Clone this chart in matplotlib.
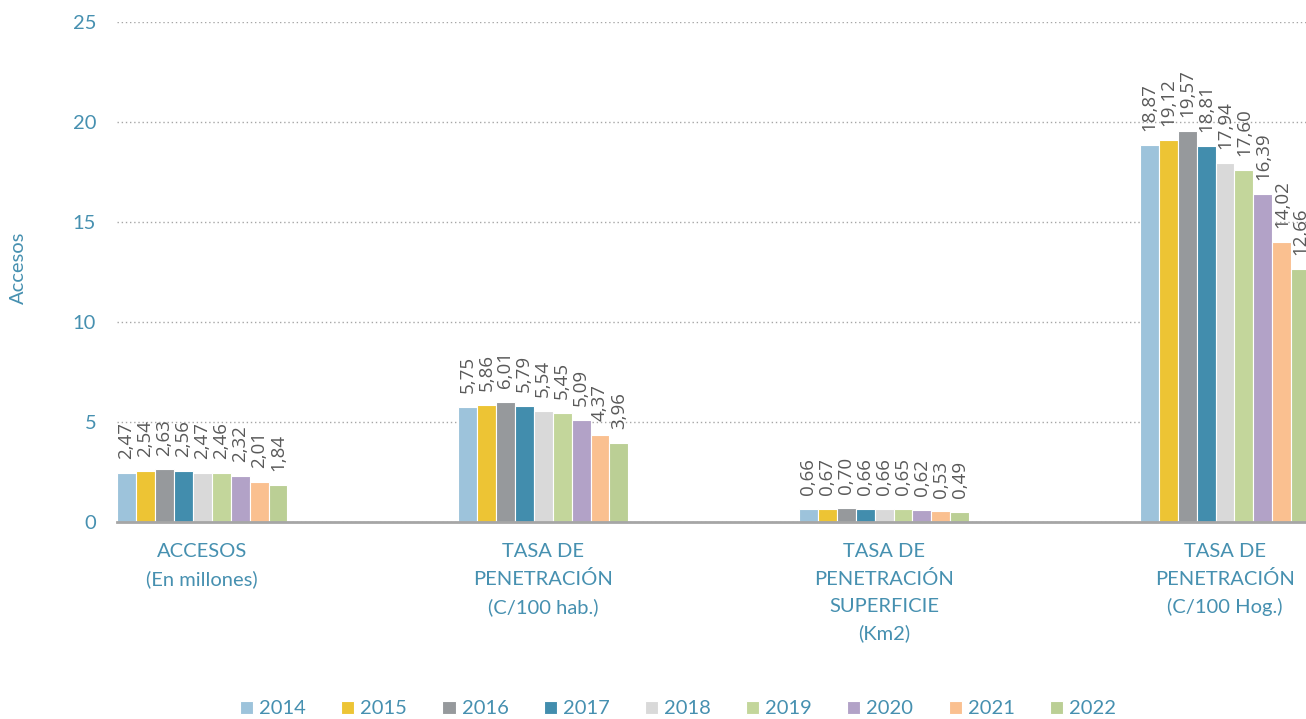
import matplotlib.pyplot as plt
import numpy as np

# data
categories = ['ACCESOS\n(En millones)',
              'TASA DE\nPENETRACIÓN\n(C/100 hab.)',
              'TASA DE\nPENETRACIÓN\nSUPERFICIE\n(Km2)',
              'TASA DE\nPENETRACIÓN\n(C/100 Hog.)']
years = ['2014', '2015', '2016', '2017', '2018', '2019', '2020', '2021', '2022']
values = {
    '2014': [2.47, 5.75, 0.66, 18.87],
    '2015': [2.54, 5.86, 0.67, 19.12],
    '2016': [2.63, 6.01, 0.70, 19.57],
    '2017': [2.56, 5.79, 0.66, 18.81],
    '2018': [2.47, 5.54, 0.66, 17.94],
    '2019': [2.46, 5.45, 0.65, 17.60],
    '2020': [2.32, 5.09, 0.62, 16.39],
    '2021': [2.01, 4.37, 0.53, 14.02],
    '2022': [1.84, 3.96, 0.49, 12.66],
}
colors = ['#9DC3DB', '#EDC434', '#96999C', '#428DAD', '#D9D9D9',
          '#C3D69B', '#B2A2C7', '#FAC090', '#BBCF95']

text_color = '#4690B0'
W, H = 1306, 719

fig = plt.figure(figsize=(W / 100, H / 100), dpi=100)
ax = fig.add_axes([117 / W, 1 - 522 / H, (W - 117) / W, 500 / H])

x = np.arange(len(categories))
group_w = 0.5
bw = group_w / len(years)
for i, y in enumerate(years):
    pos = x - group_w / 2 + bw * (i + 0.5)
    bars = ax.bar(pos, values[y], width=bw, color=colors[i], edgecolor='white',
                  linewidth=0.8, label=y, zorder=3)
    for b, v in zip(bars, values[y]):
        ax.annotate(f'{v:.2f}'.replace('.', ','),
                    (b.get_x() + b.get_width() / 2, b.get_height()),
                    xytext=(0, 10), textcoords='offset points',
                    rotation=90, ha='center', va='bottom',
                    fontsize=13.5, color='#595959', family='Open Sans')

ax.set_xlim(-0.25, (W - 202) / 341)
ax.set_ylim(0, 25)
ax.set_yticks(range(0, 26, 5))
ax.yaxis.grid(True, linestyle=(0, (1, 2)), color='#A6A6A6', linewidth=1, zorder=0)
ax.tick_params(axis='y', length=0, pad=15, labelsize=14.5, labelcolor=text_color)
ax.set_xticks([])
for s in ['top', 'right', 'left']:
    ax.spines[s].set_visible(False)
ax.spines['bottom'].set_color('#A6A6A6')
ax.spines['bottom'].set_linewidth(2)
ax.spines['bottom'].set_zorder(4)
for lab in ax.get_yticklabels():
    lab.set_family('Lato')

# category labels under the axis
for xi, cat in zip(x, categories):
    ax.annotate(cat, (xi, 0), xytext=(0, -15), textcoords='offset points',
                ha='center', va='top', fontsize=14.5, color=text_color,
                family='Lato', linespacing=1.68, annotation_clip=False)

fig.text(18 / W, 1 - 268 / H, 'Accesos', rotation=90, ha='center', va='center',
         fontsize=14.5, color=text_color, family='Lato')

leg = fig.legend(loc='center', bbox_to_anchor=(678 / W, 1 - 709 / H), ncol=9,
                 frameon=False, handlelength=0.65, handleheight=0.65,
                 handletextpad=0.3, columnspacing=1.75,
                 prop={'family': 'Lato', 'size': 14.5})
for t in leg.get_texts():
    t.set_color(text_color)

fig.savefig('out.png', dpi=100)
